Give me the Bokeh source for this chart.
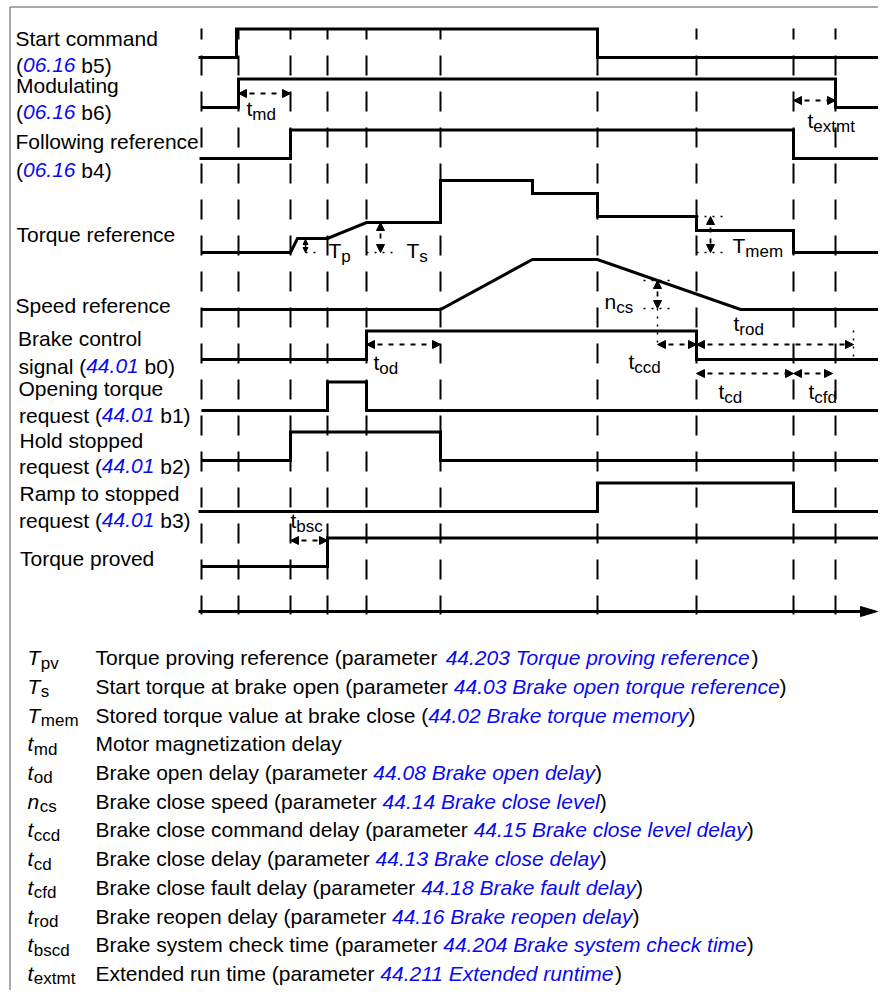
from bokeh.plotting import figure
from bokeh.models import ColumnDataSource, Range1d, Arrow, NormalHead
from bokeh.core.properties import value
from bokeh.embed import file_html
from bokeh.resources import INLINE

# ---------------- data (time positions in diagram units) ----------------
EVENT_T = [201, 238, 290, 327, 366, 440, 597, 696, 793, 835]
T_END = 878

start_cmd_t = [198, 236, 597]
start_cmd_lv = [0, 1, 0]
modulating_t = [201, 238, 835]
modulating_lv = [0, 1, 0]
following_t = [199, 290, 793]
following_lv = [0, 1, 0]
brake_ctrl_t = [201, 366, 696]
brake_ctrl_lv = [0, 1, 0]
open_torque_t = [201, 327, 366]
open_torque_lv = [0, 1, 0]
hold_stopped_t = [201, 290, 440]
hold_stopped_lv = [0, 1, 0]
ramp_stopped_t = [198, 597, 793]
ramp_stopped_lv = [0, 1, 0]
torque_proved_t = [201, 327]
torque_proved_lv = [0, 1]

torque_ref_t = [201, 290, 297, 327, 366, 440, 440, 532, 532, 597, 597, 696, 696, 793, 793, 878]
torque_ref_v = [0, 0, 14, 14, 30, 30, 72, 72, 59, 59, 36, 36, 22, 22, 0, 0]
speed_ref_t = [201, 440, 532, 597, 740, 878]
speed_ref_v = [0, 0, 50, 50, 0, 0]

LEGEND_SYM = ["T", "T", "T", "t", "t", "n", "t", "t", "t", "t", "t", "t"]
LEGEND_SUB = ["pv", "s", "mem", "md", "od", "cs", "ccd", "cd", "cfd", "rod", "bscd", "extmt"]
LEGEND_DESC = ["Torque proving reference (parameter ", "Start torque at brake open (parameter ",
               "Stored torque value at brake close (", "Motor magnetization delay",
               "Brake open delay (parameter ", "Brake close speed (parameter ",
               "Brake close command delay (parameter ", "Brake close delay (parameter ",
               "Brake close fault delay (parameter ", "Brake reopen delay (parameter ",
               "Brake system check time (parameter ", "Extended run time (parameter "]
LEGEND_PARAM = ["44.203 Torque proving reference", "44.03 Brake open torque reference",
                "44.02 Brake torque memory", "", "44.08 Brake open delay",
                "44.14 Brake close level", "44.15 Brake close level delay",
                "44.13 Brake close delay", "44.18 Brake fault delay",
                "44.16 Brake reopen delay", "44.204 Brake system check time",
                "44.211 Extended runtime"]

# ---------------- layout ----------------
W, H = 878, 990
FONT = "Liberation Sans"
BLUE = "#0a0aee"
MAIN = 21
SUB = 17

AR = {' ': 278, '(': 333, ')': 333, '.': 278, ',': 278, '-': 333,
      'A': 667, 'B': 667, 'C': 722, 'D': 722, 'E': 667, 'F': 611, 'G': 778, 'H': 722, 'I': 278,
      'J': 500, 'K': 667, 'L': 556, 'M': 833, 'N': 722, 'O': 778, 'P': 667, 'Q': 778, 'R': 722,
      'S': 667, 'T': 611, 'U': 722, 'V': 667, 'W': 944, 'X': 667, 'Y': 667, 'Z': 611,
      'a': 556, 'b': 556, 'c': 500, 'd': 556, 'e': 556, 'f': 278, 'g': 556, 'h': 556, 'i': 222,
      'j': 222, 'k': 500, 'l': 222, 'm': 833, 'n': 556, 'o': 556, 'p': 556, 'q': 556, 'r': 333,
      's': 500, 't': 278, 'u': 556, 'v': 500, 'w': 722, 'x': 500, 'y': 500, 'z': 500}


def tw(s, size):
    return sum(AR.get(c, 556) for c in s) * size / 1000.0


p = figure(width=W, height=H, x_range=Range1d(0, W), y_range=Range1d(H, 0),
           output_backend="svg", toolbar_location=None, min_border=0,
           x_axis_type=None, y_axis_type=None)
p.grid.visible = False
p.outline_line_color = None
p.background_fill_color = "white"

# frame
p.line([9.5, 9.5], [6.5, H], line_color="#555555", line_width=1)
p.line([9.5, W], [6.5, 6.5], line_color="#555555", line_width=1)

# dashed event lines
p.multi_line(xs=[[t, t] for t in EVENT_T], ys=[[28, 614] for _ in EVENT_T],
             line_color="black", line_width=2, line_dash="20 16", line_dash_offset=9)


def step(ts, lvs, low, amp=28.5):
    xs, ys = [ts[0]], [low - amp * lvs[0]]
    for t, lv, prev in zip(ts[1:], lvs[1:], lvs[:-1]):
        xs += [t, t]
        ys += [low - amp * prev, low - amp * lv]
    xs.append(T_END)
    ys.append(low - amp * lvs[-1])
    return xs, ys


digital = [(start_cmd_t, start_cmd_lv, 57), (modulating_t, modulating_lv, 107),
           (following_t, following_lv, 158), (brake_ctrl_t, brake_ctrl_lv, 359),
           (open_torque_t, open_torque_lv, 410), (hold_stopped_t, hold_stopped_lv, 460),
           (ramp_stopped_t, ramp_stopped_lv, 511), (torque_proved_t, torque_proved_lv, 566)]
for ts, lv, low in digital:
    xs, ys = step(ts, lv, low)
    p.line(xs, ys, line_color="black", line_width=3, line_join="miter")

p.line(torque_ref_t, [252 - v for v in torque_ref_v], line_color="black", line_width=3, line_join="miter")
p.line(speed_ref_t, [309 - v for v in speed_ref_v], line_color="black", line_width=3, line_join="miter")

# time axis
AX_Y = 611
p.line([198, W - 14], [AX_Y, AX_Y], line_color="black", line_width=3)
p.patch([W - 18, W - 1, W - 18], [AX_Y - 5, AX_Y, AX_Y + 5], color="black")

# dimension arrows
harr = [(238, 290, 93), (793, 835, 100), (366, 440, 344), (657, 696, 344), (696, 853, 344),
        (696, 793, 373), (793, 832, 373), (290, 327, 540)]
varr = [(380, 222, 252), (710, 216, 252), (657, 280, 308)]
src = ColumnDataSource(dict(
    x0=[a[0] for a in harr] + [a[0] for a in varr],
    x1=[a[1] for a in harr] + [a[0] for a in varr],
    y0=[a[2] for a in harr] + [a[1] for a in varr],
    y1=[a[2] for a in harr] + [a[2] for a in varr]))
p.add_layout(Arrow(start=NormalHead(size=8, fill_color="black", line_color="black", line_width=1),
                   end=NormalHead(size=8, fill_color="black", line_color="black", line_width=1),
                   x_start="x0", y_start="y0", x_end="x1", y_end="y1", source=src,
                   line_color="black", line_width=1.8, line_dash="5 6"))
p.add_layout(Arrow(start=NormalHead(size=5, fill_color="black", line_color="black", line_width=1),
                   end=NormalHead(size=5, fill_color="black", line_color="black", line_width=1),
                   x_start=305, y_start=239, x_end=305, y_end=252,
                   line_color="black", line_width=1.5))

dots = [(305, 252, 320, 252), (366, 252, 396, 252), (696, 216, 726, 216), (696, 252, 726, 252),
        (643, 280, 673, 280), (643, 308, 673, 308), (657, 308, 657, 344), (853, 330, 853, 358)]
p.multi_line(xs=[[d[0], d[2]] for d in dots], ys=[[d[1], d[3]] for d in dots],
             line_color="black", line_width=1.5, line_dash="2 6")

# ---------------- texts ----------------
segs = []


def seg(x, y, text, size=MAIN, color="black", style="normal"):
    # y is the alphabetic baseline; converted to the em-box middle
    lead = len(text) - len(text.lstrip(" "))
    x += tw(" " * lead, size)
    segs.append((x, y - 0.3465 * size, text.strip(" "), size, color, style))


def param_line(x, y, pre, par, suf, size=MAIN):
    seg(x, y, pre, size)
    x += tw(pre, size)
    seg(x, y, par, size, BLUE, "italic")
    x += tw(par, size)
    seg(x, y, suf, size)


seg(15, 45, "Start command")
param_line(15.5, 72, "(", "06.16", " b5)")
seg(15.5, 92, "Modulating")
param_line(15.5, 119, "(", "06.16", " b6)")
seg(15, 148, "Following reference")
param_line(15.5, 177, "(", "06.16", " b4)")
seg(16, 241, "Torque reference")
seg(15, 312, "Speed reference")
seg(17.5, 345, "Brake control")
param_line(18, 373, "signal (", "44.01", " b0)")
seg(18, 395, "Opening torque")
param_line(18.5, 422, "request (", "44.01", " b1)")
seg(19, 447, "Hold stopped")
param_line(18.5, 473, "request (", "44.01", " b2)")
seg(19, 500, "Ramp to stopped")
param_line(18.5, 527, "request (", "44.01", " b3)")
seg(19.5, 565, "Torque proved")

annot = [("t", "md", 246, 115), ("t", "extmt", 807, 127), ("t", "od", 373, 369),
         ("T", "p", 328, 257), ("T", "s", 406, 257), ("T", "mem", 732, 252),
         ("n", "cs", 604, 308), ("t", "rod", 733, 330), ("t", "ccd", 628, 368),
         ("t", "cd", 718, 398), ("t", "cfd", 808, 398), ("t", "bsc", 290, 527)]
for m, s, x, y in annot:
    seg(x, y, m)
    seg(x + tw(m, MAIN), y + 4.5, s, SUB)

for i, (m, s, d, par) in enumerate(zip(LEGEND_SYM, LEGEND_SUB, LEGEND_DESC, LEGEND_PARAM)):
    y = 664.5 + 28.7 * i
    seg(27, y, m, MAIN, "black", "italic")
    seg(27 + tw(m, MAIN) + 0.5, y + 4, s, SUB)
    if par:
        param_line(95, y, d, par, ")")
    else:
        seg(95, y, d)

groups = {}
for x, y, t, size, color, style in segs:
    groups.setdefault((size, color, style), []).append((x, y, t))
for (size, color, style), items in groups.items():
    p.text(x=[i[0] for i in items], y=[i[1] for i in items], text=[i[2] for i in items],
           text_font=value(FONT), text_font_size=f"{size}px", text_color=color,
           text_font_style=style, text_baseline="middle", text_align="left")

open("out.html", "w").write(file_html(p, INLINE))
